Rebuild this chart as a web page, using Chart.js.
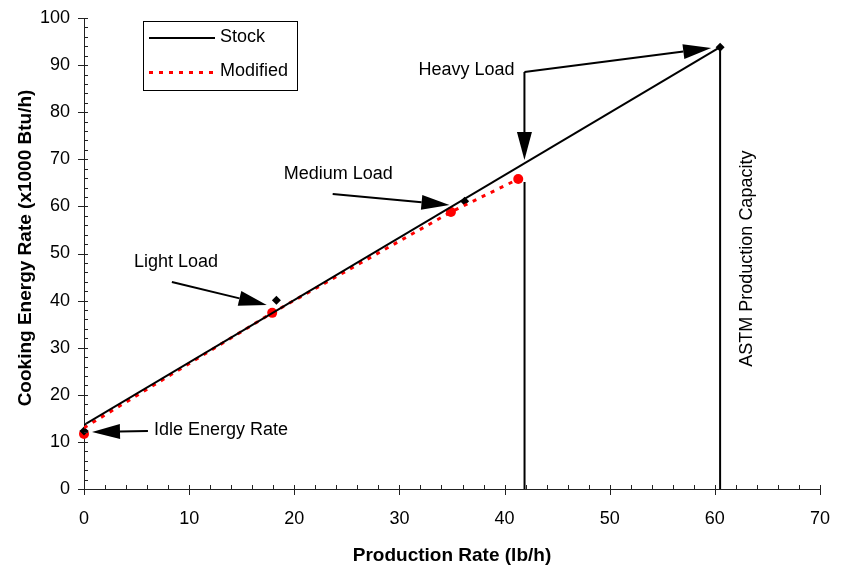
<!DOCTYPE html>
<html>
<head>
<meta charset="utf-8">
<script src="https://cdn.jsdelivr.net/npm/chart.js@4"></script>
<style>
html, body { margin: 0; padding: 0; background: #fff; }
#wrap { width: 841px; height: 567px; position: relative; }
</style>
</head>
<body>
<div id="wrap"><canvas id="grafico"></canvas></div>
<script>
const fonte = "'Liberation Sans', Arial, sans-serif";

// Eixos
const xTicks = [0, 10, 20, 30, 40, 50, 60, 70];
const yTicks = [0, 10, 20, 30, 40, 50, 60, 70, 80, 90, 100];

// Stock: reta de ajuste + pontos medidos
const stockLinhaX = [0, 60.5];
const stockLinhaY = [13.6, 93.8];
const stockX = [0, 18.3, 36.2, 60.5];
const stockY = [12.3, 40.1, 61.1, 93.8];

// Modified: linha pontilhada + pontos medidos
const modLinhaX = [0, 17.9, 34.9, 41.3];
const modLinhaY = [13.0, 37.4, 58.8, 65.8];
const modX = [0, 17.9, 34.9, 41.3];
const modY = [11.7, 37.4, 58.8, 65.8];

// Capacidade de produção (linhas verticais)
const capX = [41.9, 60.5];
const capTopoY = [65.2, 93.8];

const pares = (xs, ys) => xs.map((x, i) => ({ x: x, y: ys[i] }));

function linhaVertical(i) {
    return {
        label: 'cap' + i,
        data: [{ x: capX[i], y: 0 }, { x: capX[i], y: capTopoY[i] }],
        showLine: true,
        borderColor: '#000',
        borderWidth: 2,
        pointRadius: 0
    };
}

// Anotações (coordenadas em unidades dos eixos)
const anotacoes = {
    setas: [
        { de: [41.89, 88.54], para: [41.89, 69.85] },
        { de: [41.89, 88.54], para: [59.65, 93.63] },
        { de: [23.65, 62.63], para: [34.76, 60.30] },
        { de: [8.36, 43.95], para: [17.38, 39.07] },
        { de: [6.08, 12.31], para: [0.76, 12.10] }
    ],
    textos: [
        { t: 'Heavy Load', x: 40.94, y: 89.03, align: 'right' },
        { t: 'Medium Load', x: 19.0, y: 66.8, align: 'left' },
        { t: 'Light Load', x: 4.75, y: 48.26, align: 'left' },
        { t: 'Idle Energy Rate', x: 6.65, y: 12.53, align: 'left' }
    ],
    vertical: { t: 'ASTM Production Capacity', x: 63.1, y: 25.97 }
};

function seta(ctx, x1, y1, x2, y2) {
    const ang = Math.atan2(y2 - y1, x2 - x1);
    const comp = 28, meia = 7.5;
    const bx = x2 - comp * Math.cos(ang), by = y2 - comp * Math.sin(ang);
    ctx.beginPath();
    ctx.moveTo(x1, y1);
    ctx.lineTo(bx, by);
    ctx.stroke();
    ctx.beginPath();
    ctx.moveTo(x2, y2);
    ctx.lineTo(bx + meia * Math.sin(ang), by - meia * Math.cos(ang));
    ctx.lineTo(bx - meia * Math.sin(ang), by + meia * Math.cos(ang));
    ctx.closePath();
    ctx.fill();
}

const pluginExtras = {
    id: 'extras',
    afterDatasetsDraw(chart) {
        const { ctx, chartArea: a, scales: { x, y } } = chart;
        ctx.save();
        ctx.strokeStyle = '#000';
        ctx.fillStyle = '#000';

        // marcas dos eixos (principais cruzam o eixo, secundárias para dentro)
        ctx.lineWidth = 1;
        ctx.strokeStyle = '#222';
        ctx.beginPath();
        for (let v = 0; v <= 70; v += 2) {
            const px = Math.round(x.getPixelForValue(v)) + 0.5;
            const major = v % 10 === 0;
            ctx.moveTo(px, a.bottom - 4);
            ctx.lineTo(px, major ? a.bottom + 6 : a.bottom);
        }
        for (let v = 0; v <= 100; v += 2) {
            const py = Math.round(y.getPixelForValue(v)) + 0.5;
            const major = v % 10 === 0;
            ctx.moveTo(a.left + 4, py);
            ctx.lineTo(major ? a.left - 6 : a.left, py);
        }
        ctx.stroke();

        // setas
        ctx.strokeStyle = '#000';
        ctx.lineWidth = 2;
        anotacoes.setas.forEach(s => {
            seta(ctx, x.getPixelForValue(s.de[0]), y.getPixelForValue(s.de[1]),
                x.getPixelForValue(s.para[0]), y.getPixelForValue(s.para[1]));
        });

        // textos das anotações
        ctx.font = '18px ' + fonte;
        ctx.textBaseline = 'middle';
        anotacoes.textos.forEach(t => {
            ctx.textAlign = t.align;
            ctx.fillText(t.t, x.getPixelForValue(t.x), y.getPixelForValue(t.y));
        });
        const v = anotacoes.vertical;
        ctx.save();
        ctx.translate(x.getPixelForValue(v.x), y.getPixelForValue(v.y));
        ctx.rotate(-Math.PI / 2);
        ctx.textAlign = 'left';
        ctx.fillText(v.t, 0, 0);
        ctx.restore();

        // títulos dos eixos
        ctx.font = 'bold 19px ' + fonte;
        ctx.textAlign = 'center';
        ctx.textBaseline = 'alphabetic';
        ctx.fillText('Production Rate (lb/h)', (a.left + a.right) / 2, 561);
        ctx.save();
        ctx.translate(31, 248);
        ctx.rotate(-Math.PI / 2);
        ctx.fillText('Cooking Energy Rate (x1000 Btu/h)', 0, 0);
        ctx.restore();

        // legenda
        ctx.fillStyle = '#fff';
        ctx.fillRect(143, 21, 154, 69);
        ctx.lineWidth = 1;
        ctx.strokeStyle = '#000';
        ctx.strokeRect(143.5, 21.5, 154, 69);
        ctx.lineWidth = 2;
        ctx.beginPath();
        ctx.moveTo(149, 38);
        ctx.lineTo(215, 38);
        ctx.stroke();
        ctx.strokeStyle = '#f00';
        ctx.lineWidth = 3;
        ctx.setLineDash([4, 6]);
        ctx.beginPath();
        ctx.moveTo(149, 72.5);
        ctx.lineTo(215, 72.5);
        ctx.stroke();
        ctx.setLineDash([]);
        ctx.fillStyle = '#000';
        ctx.font = '18px ' + fonte;
        ctx.textAlign = 'left';
        ctx.textBaseline = 'middle';
        ctx.fillText('Stock', 220, 37);
        ctx.fillText('Modified', 220, 71);
        ctx.restore();
    }
};

new Chart(document.getElementById('grafico'), {
    type: 'scatter',
    data: {
        datasets: [
            linhaVertical(0),
            linhaVertical(1),
            {
                label: 'Stock',
                data: pares(stockLinhaX, stockLinhaY),
                showLine: true,
                borderColor: '#000',
                borderWidth: 2,
                pointRadius: 0
            },
            {
                label: 'Modified',
                data: pares(modLinhaX, modLinhaY),
                showLine: true,
                borderColor: '#f00',
                borderWidth: 3,
                borderDash: [4, 6],
                pointRadius: 0
            },
            {
                label: 'Stock pontos',
                data: pares(stockX, stockY),
                pointStyle: 'rectRot',
                pointRadius: 4.5,
                backgroundColor: '#000',
                borderColor: '#000',
                borderWidth: 0,
                clip: false
            },
            {
                label: 'Modified pontos',
                data: pares(modX, modY),
                pointStyle: 'circle',
                pointRadius: 5,
                backgroundColor: '#f00',
                borderColor: '#f00',
                borderWidth: 0,
                clip: false
            }
        ]
    },
    options: {
        responsive: true,
        maintainAspectRatio: false,
        animation: false,
        layout: { padding: { top: 18, right: 20, left: 0, bottom: 0 } },
        plugins: {
            legend: { display: false },
            tooltip: { enabled: false }
        },
        scales: {
            x: {
                type: 'linear',
                min: 0,
                max: 70,
                afterBuildTicks: s => { s.ticks = xTicks.map(v => ({ value: v })); },
                afterFit: s => { s.height = 78; },
                grid: { display: false },
                border: { display: true, color: '#222', width: 1 },
                ticks: { color: '#000', padding: 11, font: { family: fonte, size: 18 } }
            },
            y: {
                type: 'linear',
                min: 0,
                max: 100,
                afterBuildTicks: s => { s.ticks = yTicks.map(v => ({ value: v })); },
                afterFit: s => { s.width = 84; },
                grid: { display: false },
                border: { display: true, color: '#222', width: 1 },
                ticks: { color: '#000', padding: 6, font: { family: fonte, size: 18 } }
            }
        }
    },
    plugins: [pluginExtras]
});
</script>
</body>
</html>
